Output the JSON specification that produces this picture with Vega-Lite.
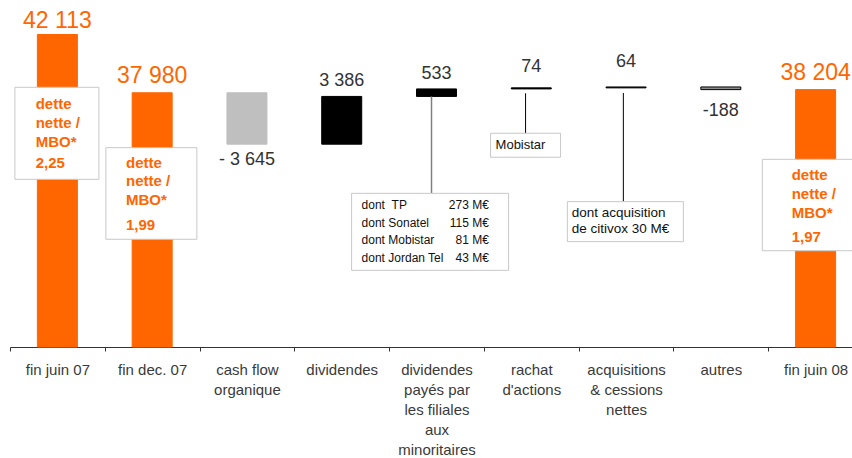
{
  "$schema": "https://vega.github.io/schema/vega-lite/v6.json",
  "width": 842,
  "height": 347,
  "autosize": {"type": "none"},
  "padding": {"left": 10, "top": 0, "right": 0, "bottom": 111},
  "background": "white",
  "config": {
    "view": {"stroke": null},
    "font": "Liberation Sans",
    "text": {"font": "Liberation Sans"}
  },
  "data": {
    "values": [
      {"cat": "fin juin 07", "label": "42 113", "start": 0, "end": 42113, "kind": "total", "ratio": "2,25"},
      {"cat": "fin dec. 07", "label": "37 980", "start": 0, "end": 37980, "kind": "total", "ratio": "1,99"},
      {"cat": "cash flow|organique", "label": "- 3 645", "start": 37980, "end": 34335, "kind": "down"},
      {"cat": "dividendes", "label": "3 386", "start": 34335, "end": 37721, "kind": "up"},
      {"cat": "dividendes|payés par|les filiales|aux|minoritaires", "label": "533", "start": 37721, "end": 38254, "kind": "up",
        "noteNames": ["dont \u00a0TP", "dont Sonatel", "dont Mobistar", "dont Jordan Tel"],
        "noteValues": ["273 M€", "115 M€", "81 M€", "43 M€"]},
      {"cat": "rachat|d'actions", "label": "74", "start": 38254, "end": 38328, "kind": "up", "note": "Mobistar"},
      {"cat": "acquisitions|& cessions|nettes", "label": "64", "start": 38328, "end": 38392, "kind": "up", "note": ["dont acquisition", "de citivox 30 M€"]},
      {"cat": "autres", "label": "-188", "start": 38392, "end": 38204, "kind": "other"},
      {"cat": "fin juin 08", "label": "38 204", "start": 0, "end": 38204, "kind": "total", "ratio": "1,97"}
    ]
  },
  "encoding": {
    "x": {
      "field": "cat",
      "type": "nominal",
      "sort": null,
      "scale": {"range": [0, 853], "paddingInner": 0, "paddingOuter": 0},
      "axis": {
        "title": null,
        "labelExpr": "split(datum.label, '|')",
        "labelFont": "Liberation Sans",
        "labelFontSize": 15,
        "labelColor": "#3a3a3a",
        "labelLineHeight": 20,
        "labelAngle": 0,
        "labelPadding": 11,
        "labelLimit": 300,
        "labelOverlap": false,
        "tickBand": "extent",
        "tickSize": 4,
        "tickColor": "#333333",
        "domainColor": "#333333",
        "domainWidth": 1,
        "grid": false
      }
    }
  },
  "layer": [
    {
      "mark": {"type": "bar", "width": 40, "strokeWidth": 1},
      "encoding": {
        "y": {"field": "start", "type": "quantitative", "axis": null,
              "scale": {"domain": [19950, 44560], "clamp": true, "zero": false, "nice": false}},
        "y2": {"field": "end"},
        "fill": {"field": "kind", "type": "nominal", "legend": null,
                 "scale": {"domain": ["total", "down", "up", "other"], "range": ["#FF6600", "#BFBFBF", "#000000", "#8C8C8C"]}},
        "stroke": {"field": "kind", "type": "nominal", "legend": null,
                   "scale": {"domain": ["total", "down", "up", "other"], "range": ["#FF6600", "#BFBFBF", "#000000", "#000000"]}}
      }
    },
    {
      "transform": [{"filter": "datum.noteNames"}],
      "mark": {"type": "rule", "color": "#808080", "strokeWidth": 1.5, "xOffset": -5, "yOffset": 0, "y2Offset": 97},
      "encoding": {"y": {"field": "start", "type": "quantitative"}, "y2": {"field": "start"}}
    },
    {
      "transform": [{"filter": "datum.label == '74'"}],
      "mark": {"type": "rule", "color": "#000000", "strokeWidth": 1, "xOffset": -5.7, "yOffset": 5.4, "y2Offset": 45.4},
      "encoding": {"y": {"field": "end", "type": "quantitative"}, "y2": {"field": "end"}}
    },
    {
      "transform": [{"filter": "datum.label == '64'"}],
      "mark": {"type": "rule", "color": "#000000", "strokeWidth": 1, "xOffset": -2.7, "yOffset": 6, "y2Offset": 114.7},
      "encoding": {"y": {"field": "end", "type": "quantitative"}, "y2": {"field": "end"}}
    },
    {
      "transform": [{"filter": "datum.cat == 'fin juin 07'"}],
      "mark": {"type": "bar", "width": 84, "xOffset": -0.5, "yOffset": 52.8, "y2Offset": 144.8, "fill": "white", "stroke": "#C8C8C8", "strokeWidth": 1},
      "encoding": {"y": {"field": "end", "type": "quantitative"}, "y2": {"field": "end"}}
    },
    {
      "transform": [{"filter": "datum.cat == 'fin dec. 07'"}],
      "mark": {"type": "bar", "width": 91, "xOffset": -0.8, "yOffset": 54.9, "y2Offset": 146.5, "fill": "white", "stroke": "#C8C8C8", "strokeWidth": 1},
      "encoding": {"y": {"field": "end", "type": "quantitative"}, "y2": {"field": "end"}}
    },
    {
      "transform": [{"filter": "datum.cat == 'fin juin 08'"}],
      "mark": {"type": "bar", "width": 92, "xOffset": -7.3, "yOffset": 69.7, "y2Offset": 161.1, "fill": "white", "stroke": "#C8C8C8", "strokeWidth": 1},
      "encoding": {"y": {"field": "end", "type": "quantitative"}, "y2": {"field": "end"}}
    },
    {
      "transform": [{"filter": "datum.noteNames"}],
      "mark": {"type": "bar", "width": 157, "xOffset": -6.4, "yOffset": 96.9, "y2Offset": 173.9, "fill": "white", "stroke": "#C8C8C8", "strokeWidth": 1},
      "encoding": {"y": {"field": "start", "type": "quantitative"}, "y2": {"field": "start"}}
    },
    {
      "transform": [{"filter": "datum.label == '74'"}],
      "mark": {"type": "bar", "width": 70, "xOffset": -5.7, "yOffset": 45.4, "y2Offset": 69.4, "fill": "white", "stroke": "#C8C8C8", "strokeWidth": 1},
      "encoding": {"y": {"field": "end", "type": "quantitative"}, "y2": {"field": "end"}}
    },
    {
      "transform": [{"filter": "datum.label == '64'"}],
      "mark": {"type": "bar", "width": 116, "xOffset": -0.7, "yOffset": 114.7, "y2Offset": 154.7, "fill": "white", "stroke": "#C8C8C8", "strokeWidth": 1},
      "encoding": {"y": {"field": "end", "type": "quantitative"}, "y2": {"field": "end"}}
    },
    {
      "transform": [{"filter": "datum.cat == 'fin juin 07'"}],
      "mark": {"type": "text", "text": ["dette", "nette /", "MBO*"], "align": "left", "baseline": "alphabetic", "dx": -21.7, "dy": 74.8, "lineHeight": 19, "fontSize": 15, "fontWeight": "bold", "color": "#FF6600"},
      "encoding": {"y": {"field": "end", "type": "quantitative"}}
    },
    {
      "transform": [{"filter": "datum.cat == 'fin juin 07'"}],
      "mark": {"type": "text", "align": "left", "baseline": "alphabetic", "dx": -21.7, "dy": 133.8, "fontSize": 15, "fontWeight": "bold", "color": "#FF6600"},
      "encoding": {"y": {"field": "end", "type": "quantitative"}, "text": {"field": "ratio"}}
    },
    {
      "transform": [{"filter": "datum.cat == 'fin dec. 07'"}],
      "mark": {"type": "text", "text": ["dette", "nette /", "MBO*"], "align": "left", "baseline": "alphabetic", "dx": -26.2, "dy": 74.9, "lineHeight": 18.7, "fontSize": 15, "fontWeight": "bold", "color": "#FF6600"},
      "encoding": {"y": {"field": "end", "type": "quantitative"}}
    },
    {
      "transform": [{"filter": "datum.cat == 'fin dec. 07'"}],
      "mark": {"type": "text", "align": "left", "baseline": "alphabetic", "dx": -26.2, "dy": 137.2, "fontSize": 15, "fontWeight": "bold", "color": "#FF6600"},
      "encoding": {"y": {"field": "end", "type": "quantitative"}, "text": {"field": "ratio"}}
    },
    {
      "transform": [{"filter": "datum.cat == 'fin juin 08'"}],
      "mark": {"type": "text", "text": ["dette", "nette /", "MBO*"], "align": "left", "baseline": "alphabetic", "dx": -23.9, "dy": 90.4, "lineHeight": 19, "fontSize": 15, "fontWeight": "bold", "color": "#FF6600"},
      "encoding": {"y": {"field": "end", "type": "quantitative"}}
    },
    {
      "transform": [{"filter": "datum.cat == 'fin juin 08'"}],
      "mark": {"type": "text", "align": "left", "baseline": "alphabetic", "dx": -23.9, "dy": 152.1, "fontSize": 15, "fontWeight": "bold", "color": "#FF6600"},
      "encoding": {"y": {"field": "end", "type": "quantitative"}, "text": {"field": "ratio"}}
    },
    {
      "transform": [{"filter": "datum.noteNames"}],
      "mark": {"type": "text", "align": "left", "baseline": "alphabetic", "dx": -74.9, "dy": 112.9, "lineHeight": 17.5, "fontSize": 12, "color": "#111111"},
      "encoding": {"y": {"field": "start", "type": "quantitative"}, "text": {"field": "noteNames"}}
    },
    {
      "transform": [{"filter": "datum.noteValues"}],
      "mark": {"type": "text", "align": "right", "baseline": "alphabetic", "dx": 52.4, "dy": 112.9, "lineHeight": 17.5, "fontSize": 12, "color": "#111111"},
      "encoding": {"y": {"field": "start", "type": "quantitative"}, "text": {"field": "noteValues"}}
    },
    {
      "transform": [{"filter": "datum.label == '74'"}],
      "mark": {"type": "text", "align": "left", "baseline": "alphabetic", "dx": -35.7, "dy": 60.8, "fontSize": 13, "color": "#111111"},
      "encoding": {"y": {"field": "end", "type": "quantitative"}, "text": {"field": "note"}}
    },
    {
      "transform": [{"filter": "datum.label == '64'"}],
      "mark": {"type": "text", "align": "left", "baseline": "alphabetic", "dx": -54.3, "dy": 129.7, "lineHeight": 16, "fontSize": 13.5, "color": "#111111"},
      "encoding": {"y": {"field": "end", "type": "quantitative"}, "text": {"field": "note"}}
    },
    {
      "transform": [{"filter": "datum.cat == 'fin juin 07'"}],
      "mark": {"type": "text", "align": "center", "baseline": "alphabetic", "dy": -7, "fontSize": 23, "color": "#FF6600"},
      "encoding": {"y": {"field": "end", "type": "quantitative"}, "text": {"field": "label"}}
    },
    {
      "transform": [{"filter": {"field": "cat", "oneOf": ["fin dec. 07", "fin juin 08"]}}],
      "mark": {"type": "text", "align": "center", "baseline": "alphabetic", "dy": -10, "fontSize": 23, "color": "#FF6600"},
      "encoding": {"y": {"field": "end", "type": "quantitative"}, "text": {"field": "label"}}
    },
    {
      "transform": [{"filter": {"field": "label", "oneOf": ["3 386", "533"]}}],
      "mark": {"type": "text", "align": "center", "baseline": "alphabetic", "dy": -10, "fontSize": 18, "color": "#333333"},
      "encoding": {"y": {"field": "end", "type": "quantitative"}, "text": {"field": "label"}}
    },
    {
      "transform": [{"filter": "datum.label == '74'"}],
      "mark": {"type": "text", "align": "center", "baseline": "alphabetic", "dy": -16, "fontSize": 18, "color": "#333333"},
      "encoding": {"y": {"field": "end", "type": "quantitative"}, "text": {"field": "label"}}
    },
    {
      "transform": [{"filter": "datum.label == '64'"}],
      "mark": {"type": "text", "align": "center", "baseline": "alphabetic", "dy": -20, "fontSize": 18, "color": "#333333"},
      "encoding": {"y": {"field": "end", "type": "quantitative"}, "text": {"field": "label"}}
    },
    {
      "transform": [{"filter": "datum.label == '- 3 645'"}],
      "mark": {"type": "text", "align": "center", "baseline": "alphabetic", "dy": 21, "fontSize": 18, "color": "#333333"},
      "encoding": {"y": {"field": "end", "type": "quantitative"}, "text": {"field": "label"}}
    },
    {
      "transform": [{"filter": "datum.label == '-188'"}],
      "mark": {"type": "text", "align": "center", "baseline": "alphabetic", "dy": 26, "fontSize": 18, "color": "#333333"},
      "encoding": {"y": {"field": "end", "type": "quantitative"}, "text": {"field": "label"}}
    }
  ]
}
